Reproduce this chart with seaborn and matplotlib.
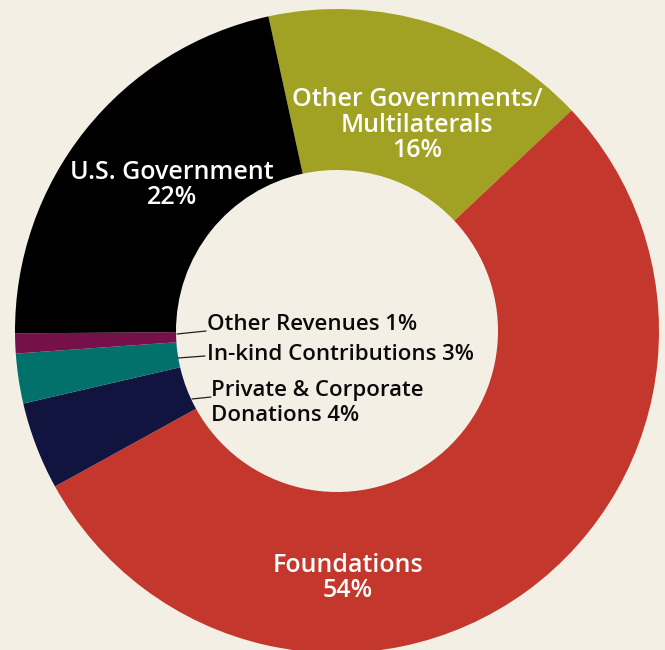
import matplotlib
matplotlib.use("Agg")
import matplotlib.pyplot as plt
import seaborn as sns

# Funding sources (share of revenue, %)
sources = ["Other Governments/\nMultilaterals", "Foundations",
           "Private & Corporate\nDonations", "In-kind Contributions",
           "Other Revenues", "U.S. Government"]
shares = [16.4, 54.0, 4.4, 2.5, 1.0, 21.7]
pct_labels = ["16%", "54%", "4%", "3%", "1%", "22%"]
colors = ["#A1A223", "#C4372D", "#10143F", "#02706B", "#76104A", "#000000"]

bg = "#F3EFE5"

sns.set_theme(style="white")
plt.rcParams["font.family"] = ["Open Sans", "DejaVu Sans"]

fig = plt.figure(figsize=(6.65, 6.5), dpi=100, facecolor=bg)
ax = fig.add_axes([0, 0, 1, 1])
ax.set_facecolor(bg)

wedges, _ = ax.pie(shares, colors=colors, startangle=102.3, counterclock=False,
                   radius=1.0, wedgeprops=dict(width=0.5, edgecolor="none", linewidth=0))

ax.set_xlim(-337 / 322, (665 - 337) / 322)
ax.set_ylim(-(650 - 331) / 322, 331 / 322)
ax.set_aspect("equal")
ax.axis("off")


def px(x, y):
    # pixel position in the 665x650 canvas -> data coords
    return (x - 337) / 322, (331 - y) / 322


# white labels inside the big slices
inside = {0: (417, 125), 5: (172, 185), 1: (348, 578)}
for i, (x, y) in inside.items():
    ax.text(*px(x, y), f"{sources[i]}\n{pct_labels[i]}", color="white",
            ha="center", va="center", fontsize=18, fontweight="semibold",
            linespacing=1.02)

# small slices: black text in the hole with short leader lines
small = {
    4: ((177, 334), (206, 331), (207, 325)),
    3: ((178, 358), (205, 356), (207, 355)),
    2: ((192, 399), (211, 397), (211, 403)),
}
for i, (p0, p1, pt) in small.items():
    txt = f"{sources[i]} {pct_labels[i]}"
    (x0, y0), (x1, y1) = px(*p0), px(*p1)
    ax.plot([x0, x1], [y0, y1], color="#222222", lw=0.9)
    ax.text(*px(*pt), txt, color="#0a0a0a", ha="left", va="center",
            fontsize=16, fontweight="semibold", linespacing=1.2)

fig.savefig("out.png", dpi=100, facecolor=bg)
